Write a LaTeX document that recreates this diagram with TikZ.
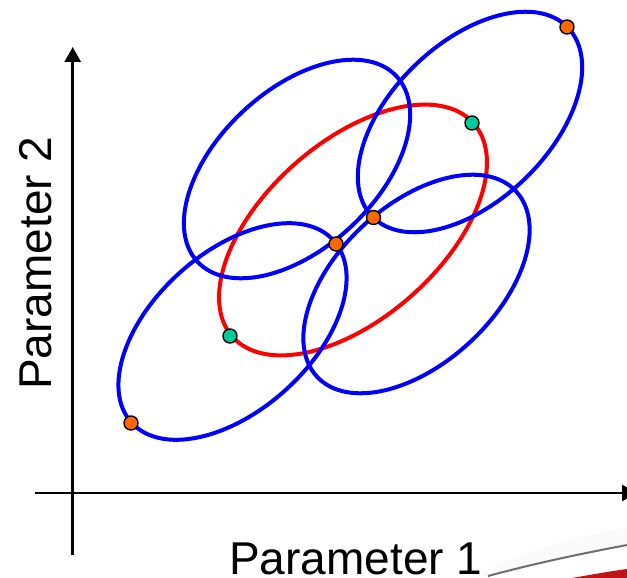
\documentclass[tikz,border=0pt]{standalone}
\usepackage{fontspec}
\setmainfont{Liberation Sans}
\usetikzlibrary{arrows.meta}
\definecolor{dotorange}{RGB}{255,102,0}
\definecolor{dotgreen}{RGB}{0,204,153}
\definecolor{bblue}{RGB}{0,0,255}
\definecolor{rred}{RGB}{255,0,0}
\definecolor{swoosh}{RGB}{110,110,110}
\definecolor{darkred}{RGB}{190,20,20}
\begin{document}
\begin{tikzpicture}[x=1pt,y=-1pt,
  axis/.style={line width=2.8pt, -{Triangle[length=15pt,width=16pt]}},
  blueell/.style={draw=bblue, line width=4pt},
  redell/.style={draw=rred, line width=4pt},
  odot/.style={circle, fill=dotorange, draw=black, line width=1.4pt, minimum size=14pt, inner sep=0pt},
  gdot/.style={odot, fill=dotgreen},
  lab/.style={font=\fontsize{46}{50}\selectfont, inner sep=0pt}]
\useasboundingbox (0,0) rectangle (627,578);
% bottom-right slide decoration
\fill[gray!4] (470,578) .. controls (530,548) and (580,535) .. (627,528) -- (627,545) .. controls (590,552) and (540,562) .. (488,576) -- cycle;
\fill[darkred] (572,578) .. controls (595,574) and (612,571) .. (627,569) -- (627,578) -- cycle;
\draw[swoosh, line width=2pt] (488,576) .. controls (540,562) and (590,552) .. (627,545);
% axes
\coordinate (yb) at (72.7,555);
\coordinate (yt) at (72.7,47);
\coordinate (xl) at (35,493);
\coordinate (xr) at (637,493);
\draw[axis] (yb) -- (yt);
\draw[axis] (xl) -- (xr);
% ellipses
\draw[redell, rotate around={41.5:(353,230)}] (353,230) ellipse [x radius=161pt, y radius=88pt];
\draw[blueell, rotate around={43:(297,169)}] (297,169) ellipse [x radius=136pt, y radius=79pt];
\draw[blueell, rotate around={44:(470,122)}] (470,122) ellipse [x radius=136pt, y radius=79pt];
\draw[blueell, rotate around={42:(232.5,331.5)}] (232.5,331.5) ellipse [x radius=136pt, y radius=79pt];
\draw[blueell, rotate around={43:(416.5,284)}] (416.5,284) ellipse [x radius=136pt, y radius=79pt];
% dots
\node[odot] (o1) at (567,27) {};
\node[odot] (o2) at (131,423) {};
\node[odot] (o3) at (336,244) {};
\node[odot] (o4) at (373.5,217.5) {};
\node[gdot] (g1) at (472,123) {};
\node[gdot] (g2) at (230,336) {};
% labels
\node[lab, anchor=base west] (p1) at (229,574) {Parameter 1};
\node[lab, rotate=90, anchor=base west] (p2) at (51,390) {Parameter 2};
\end{tikzpicture}
\end{document}
